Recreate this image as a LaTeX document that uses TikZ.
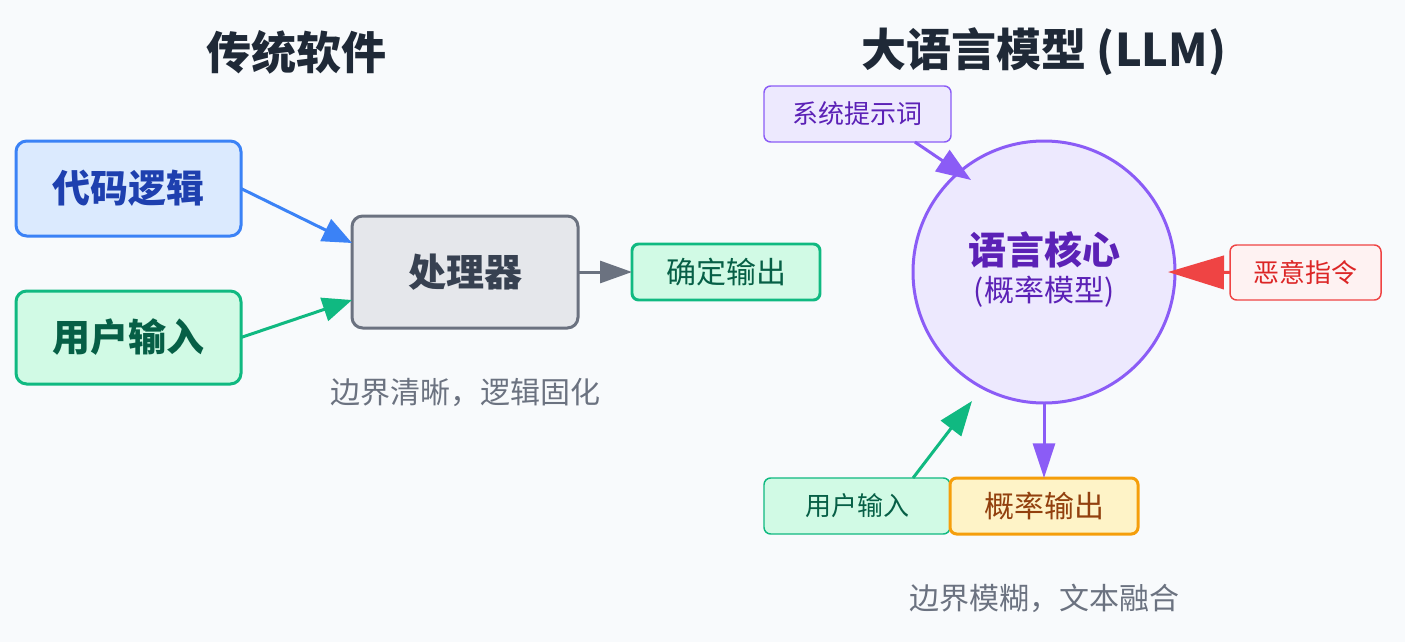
\documentclass[tikz,border=0pt]{standalone}
\usepackage{fontspec}
\setmainfont{Noto Sans CJK SC}
\usetikzlibrary{arrows.meta,calc}
\definecolor{bg}{HTML}{F8FAFC}
\definecolor{titlec}{HTML}{1F2937}
\definecolor{bluefill}{HTML}{DBEAFE}
\definecolor{bluedraw}{HTML}{3B82F6}
\definecolor{bluetext}{HTML}{1E40AF}
\definecolor{greenfill}{HTML}{D1FAE5}
\definecolor{greendraw}{HTML}{10B981}
\definecolor{greentext}{HTML}{065F46}
\definecolor{grayfill}{HTML}{E5E7EB}
\definecolor{graydraw}{HTML}{6B7280}
\definecolor{graytext}{HTML}{374151}
\definecolor{captionc}{HTML}{6B7280}
\definecolor{purplefill}{HTML}{EDE9FE}
\definecolor{purpledraw}{HTML}{8B5CF6}
\definecolor{purpletext}{HTML}{5B21B6}
\definecolor{redfill}{HTML}{FEF2F2}
\definecolor{reddraw}{HTML}{EF4444}
\definecolor{redtext}{HTML}{DC2626}
\definecolor{amberfill}{HTML}{FEF3C7}
\definecolor{amberdraw}{HTML}{F59E0B}
\definecolor{ambertext}{HTML}{92400E}
\tikzset{
  bigbox/.style={draw, line width=2.25pt, rounded corners=8pt, outer sep=0pt, inner sep=0pt,
    font=\fontsize{28.5}{32}\selectfont\bfseries},
  smallbox/.style={draw, line width=1.1pt, rounded corners=5pt, outer sep=0pt, inner sep=0pt,
    minimum width=140pt, minimum height=42pt, font=\fontsize{19.5}{23}\selectfont},
  titletext/.style={text=titlec, font=\fontsize{33.75}{38}\selectfont\bfseries},
  captiontext/.style={text=captionc, font=\fontsize{22.5}{26}\selectfont},
  conn/.style={line width=2.25pt},
}
\begin{document}
\begin{tikzpicture}[x=0.75pt,y=-0.75pt]
\fill[bg] (0,0) rectangle (1405,642);
\useasboundingbox (0,0) rectangle (1405,642);

% titles
\node[titletext] (t1) at (296,52) {传统软件};
\node[titletext] (t2) at (1044,52) {大语言模型 (LLM)};

% left side
\node[bigbox, fill=bluefill, draw=bluedraw, text=bluetext,
  minimum width=168.75pt, minimum height=71.25pt] (code) at (128.5,188.5) {代码逻辑};
\node[bigbox, fill=greenfill, draw=greendraw, text=greentext,
  minimum width=168.75pt, minimum height=69.75pt] (userL) at (128.5,337.5) {用户输入};
\node[bigbox, fill=grayfill, draw=graydraw, text=graytext,
  minimum width=169.5pt, minimum height=84pt] (proc) at (465,272) {处理器};
\node[bigbox, line width=2.2pt, fill=greenfill, draw=greendraw, text=greentext,
  minimum width=141pt, minimum height=42pt, rounded corners=5pt,
  font=\fontsize{22.5}{26}\selectfont] (det) at (726,272) {确定输出};
\node[captiontext] (cap1) at (465,392) {边界清晰，逻辑固化};

\draw[conn, bluedraw, -{Triangle[length=22pt,width=18pt]}] (code.east) -- ([yshift=21.75pt]proc.west);
\draw[conn, greendraw, -{Triangle[length=22pt,width=18pt]}] (userL.east) -- ([yshift=-21pt]proc.west);
\draw[conn, graydraw, -{Triangle[length=24pt,width=16.5pt]}] (proc.east) -- (det.west);

% right side
\node[draw=purpledraw, fill=purplefill, line width=2.25pt, circle, outer sep=0pt,
  minimum size=196.5pt] (core) at (1044,272) {};
\node[text=purpletext, font=\fontsize{28.5}{32}\selectfont\bfseries] (coret) at (1044,250) {语言核心};
\node[text=purpletext, font=\fontsize{22.5}{26}\selectfont] (cores) at (1044,292) {(概率模型)};

\node[smallbox, fill=purplefill, draw=purpledraw, text=purpletext,
  minimum width=140.25pt] (sys) at (857.5,114) {系统提示词};
\node[smallbox, fill=redfill, draw=reddraw, text=redtext,
  minimum width=113.25pt, minimum height=41.25pt] (mal) at (1305.5,272.5) {恶意指令};
\node[smallbox, fill=greenfill, draw=greendraw, text=greentext,
  minimum width=139.5pt] (userR) at (857,506) {用户输入};
\node[smallbox, line width=2.25pt, fill=amberfill, draw=amberdraw, text=ambertext,
  minimum width=141pt, font=\fontsize{22.5}{26}\selectfont] (prob) at (1044,506) {概率输出};
\node[captiontext] (cap2) at (1044,598) {边界模糊，文本融合};

\coordinate (sysTip) at ($(core.center)+(-73,-92)$);
\coordinate (userTip) at ($(core.center)+(-72,129)$);
\draw[conn, purpledraw, -{Triangle[length=26pt,width=19pt]}] ([xshift=43pt]sys.south) -- (sysTip);
\draw[conn, reddraw, -{Triangle[length=42pt,width=25pt]}] (mal.west) -- ($(core.east)+(-7,0)$);
\draw[conn, greendraw, -{Triangle[length=26pt,width=19pt]}] ([xshift=42pt]userR.north) -- (userTip);
\draw[conn, purpledraw, -{Triangle[length=26pt,width=16.5pt]}] (core.south) -- (prob.north);
\end{tikzpicture}
\end{document}
